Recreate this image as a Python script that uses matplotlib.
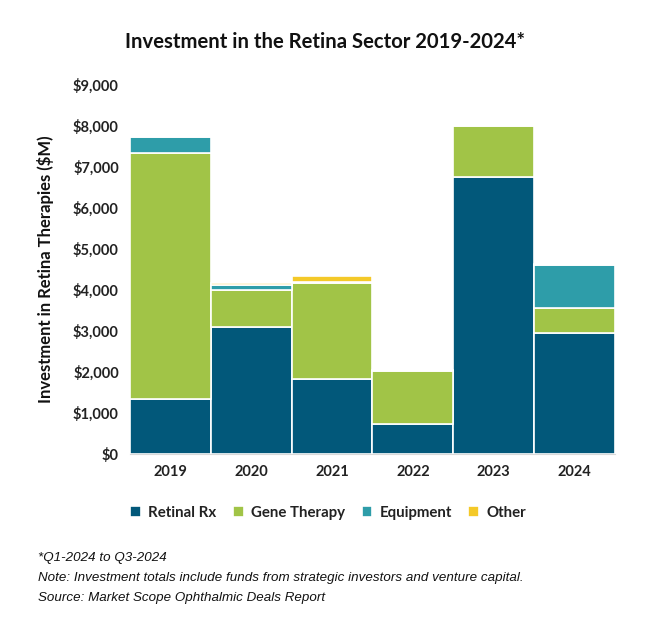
import matplotlib
matplotlib.use("Agg")
import matplotlib.pyplot as plt
from matplotlib.ticker import FuncFormatter
import numpy as np

years = ["2019", "2020", "2021", "2022", "2023", "2024"]
retinal_rx = [1340, 3100, 1830, 730, 6760, 2950]
gene_therapy = [6000, 900, 2340, 1290, 1240, 610]
equipment = [390, 120, 20, 20, 30, 1050]
other = [20, 50, 150, 10, 10, 20]

series = [("Retinal Rx", retinal_rx, "#02587A"),
          ("Gene Therapy", gene_therapy, "#A1C447"),
          ("Equipment", equipment, "#2E9DA9"),
          ("Other", other, "#F4C928")]

plt.rcParams['font.family'] = ['Lato', 'DejaVu Sans']

fig = plt.figure(figsize=(6.5, 6.21), dpi=100)
ax = fig.add_axes([0.2, 0.269, 0.746, 0.594])

x = np.arange(len(years))
bottom = np.zeros(len(years))
for name, vals, col in series:
    ax.bar(x, vals, width=1.0, bottom=bottom, color=col, edgecolor="white",
           linewidth=1.2, label=name)
    bottom += np.array(vals)

ax.set_xlim(-0.5, len(years) - 0.5)
ax.set_ylim(0, 9000)
ax.set_yticks(np.arange(0, 9001, 1000))
ax.yaxis.set_major_formatter(FuncFormatter(lambda v, p: f"${v:,.0f}"))
ax.set_xticks(x)
ax.set_xticklabels(years)
for lab in ax.get_xticklabels() + ax.get_yticklabels():
    lab.set_fontweight("bold")
    lab.set_fontsize(10.5)
    lab.set_color("#222222")
ax.tick_params(length=0, pad=8)
for s in ["top", "right", "left"]:
    ax.spines[s].set_visible(False)
ax.spines["bottom"].set_color("#d9d9d9")

ax.set_ylabel("Investment in Retina Therapies ($M)", fontsize=12, fontweight="bold",
              labelpad=14, color="#111111")

fig.text(0.5, 0.932, "Investment in the Retina Sector 2019-2024*", ha="center",
         va="center", fontsize=14.6, fontweight="bold", color="#111111")

handles, labels = ax.get_legend_handles_labels()
leg = fig.legend(handles, labels, loc="center", bbox_to_anchor=(0.505, 0.174), ncol=4,
                 frameon=False, fontsize=10.8, handlelength=0.7, handleheight=0.7,
                 columnspacing=1.1, handletextpad=0.5)
for t in leg.get_texts():
    t.set_fontweight("bold")
    t.set_color("#222222")

foot = ["*Q1-2024 to Q3-2024",
        "Note: Investment totals include funds from strategic investors and venture capital.",
        "Source: Market Scope Ophthalmic Deals Report"]
for i, line in enumerate(foot):
    fig.text(0.058, 0.101 - i * 0.032, line, ha="left", va="center", fontsize=9.6,
             style="italic", family="Liberation Sans", color="#111111")

fig.savefig("out.png", dpi=100)
